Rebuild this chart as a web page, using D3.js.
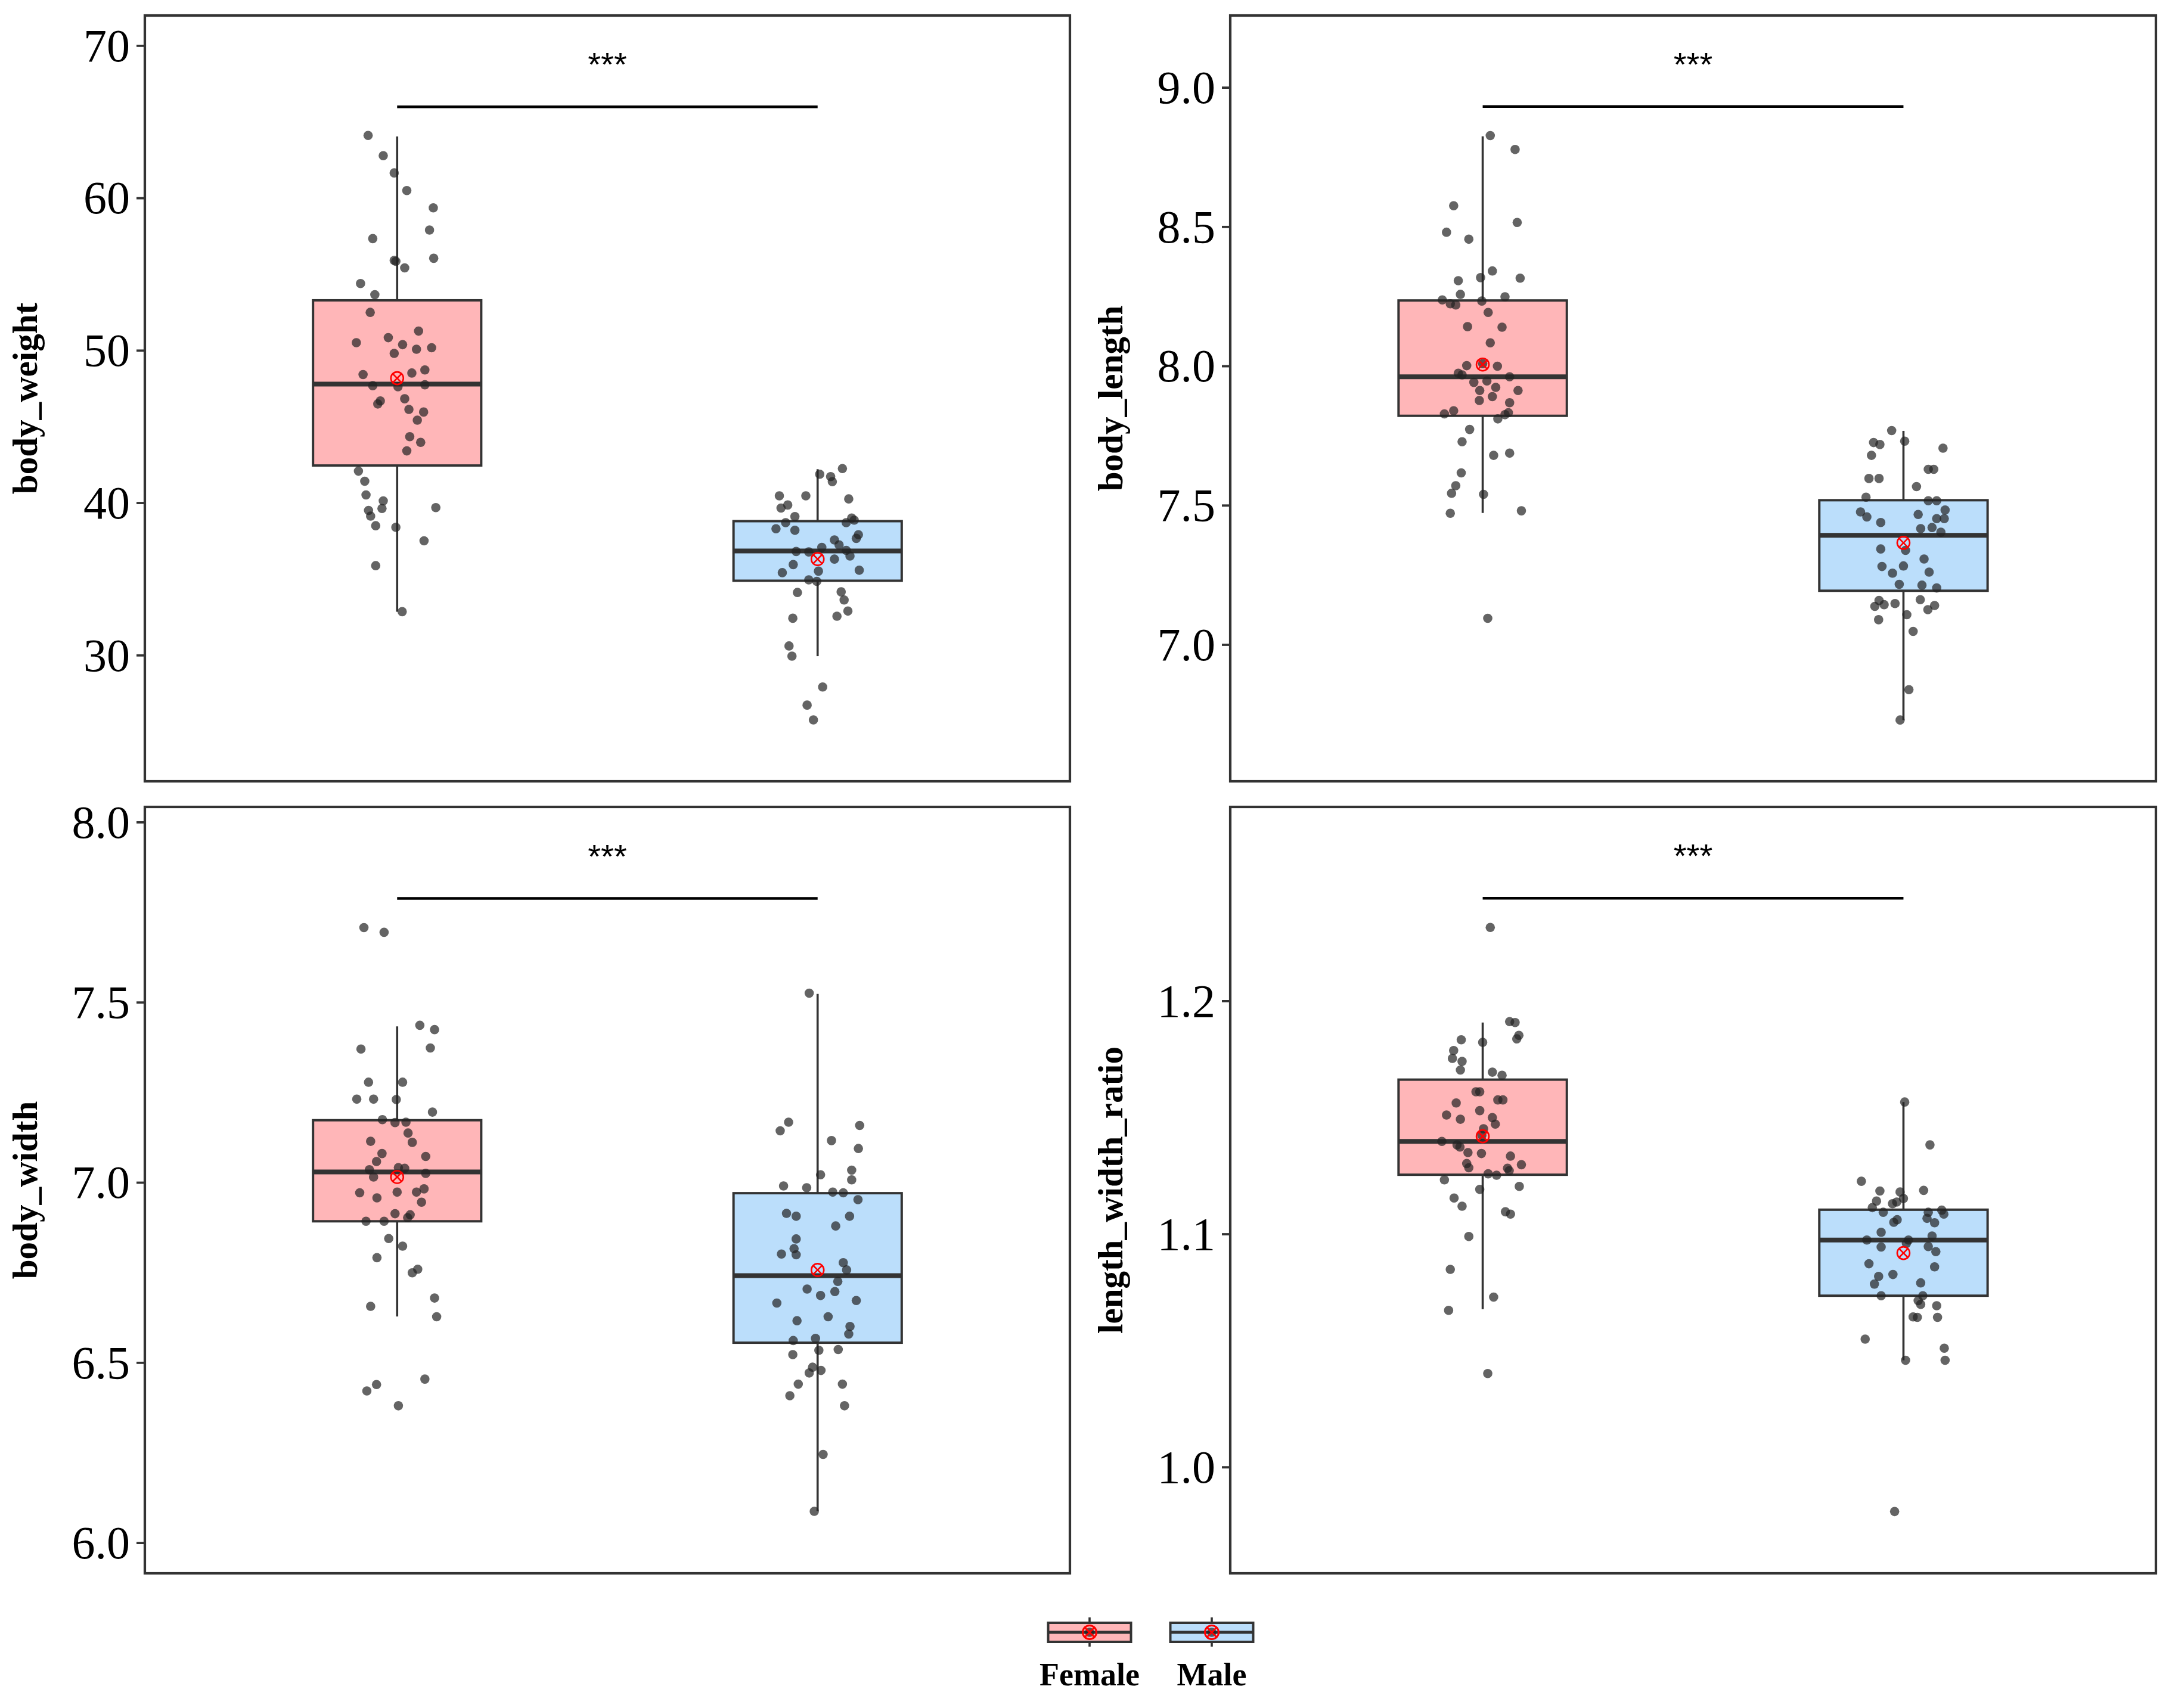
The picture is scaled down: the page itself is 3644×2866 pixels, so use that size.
<!DOCTYPE html>
<html>
<head>
<meta charset="utf-8">
<script src="https://cdn.jsdelivr.net/npm/d3@7/dist/d3.min.js"></script>
<style>
  html, body { margin: 0; padding: 0; background: #ffffff; }
  svg { display: block; }
</style>
</head>
<body>
<svg id="chart" width="3644" height="2866"></svg>
<script>
// ---------------- DATA ----------------
const categories = ["Female", "Male"];
const variables = ["body_weight", "body_length", "body_width", "length_width_ratio"];

const yTicks = [
  [30, 40, 50, 60, 70],
  [7.0, 7.5, 8.0, 8.5, 9.0],
  [6.0, 6.5, 7.0, 7.5, 8.0],
  [1.0, 1.1, 1.2]
];
const yTickLabels = [
  ["30", "40", "50", "60", "70"],
  ["7.0", "7.5", "8.0", "8.5", "9.0"],
  ["6.0", "6.5", "7.0", "7.5", "8.0"],
  ["1.0", "1.1", "1.2"]
];
const yDomains = [
  [21.72, 71.97],
  [6.509, 9.258],
  [5.915, 8.042],
  [0.9544, 1.2832]
];

// box stats: [lowerWhisker, q1, median, q3, upperWhisker, mean]
const boxFemale = [
  [32.85, 42.44, 47.78, 53.28, 64.03, 48.17],
  [7.472, 7.821, 7.961, 8.235, 8.824, 8.005],
  [6.628, 6.892, 7.029, 7.1725, 7.433, 7.015],
  [1.0677, 1.1254, 1.1397, 1.1662, 1.1907, 1.1419]
];
const boxMale = [
  [29.93, 34.88, 36.83, 38.79, 42.2, 36.30],
  [6.729, 7.193, 7.392, 7.518, 7.767, 7.365],
  [6.088, 6.555, 6.741, 6.970, 7.523, 6.757],
  [1.0458, 1.0735, 1.0974, 1.1104, 1.1566, 1.0918]
];

const sigLevels = [65.98, 8.931, 7.788, 1.244];
const sigLabels = ["***", "***", "***", "***"];

// observations: [value, jitter offset in category units]
const bodyWeightFemale = [
  [64.1,-0.069],[62.77,-0.033],[61.64,-0.007],[60.48,0.023],[59.35,0.086],[57.89,0.077],[57.33,-0.058],
  [55.9,-0.007],[55.84,-0.003],[55.41,0.018],[56.04,0.087],[54.38,-0.087],[53.65,-0.053],[52.49,-0.064],
  [51.26,0.051],[50.83,-0.021],[50.5,-0.097],[50.37,0.013],[49.8,-0.007],[50.07,0.046],[50.17,0.082],
  [48.71,0.066],[48.51,0.035],[48.41,-0.081],[47.68,-0.058],[47.61,0.002],[47.74,0.066],[46.48,-0.046],
  [46.68,-0.040],[46.82,0.018],[46.12,0.028],[45.95,0.063],[45.42,0.048],[44.33,0.030],[43.96,0.056],
  [43.4,0.023],[42.07,-0.092],[41.41,-0.077],[40.51,-0.074],[40.12,-0.033],[39.62,-0.036],[39.49,-0.068],
  [39.12,-0.063],[39.68,0.092],[38.49,-0.051],[38.39,-0.003],[37.5,0.064],[35.87,-0.051],[32.85,0.012]
];
const bodyWeightMale = [
  [42.24,0.059],[41.87,0.005],[41.71,0.031],[41.38,0.035],[40.45,-0.091],[40.45,-0.028],[39.85,-0.071],
  [39.65,-0.087],[40.25,0.074],[39.09,-0.054],[38.99,0.081],[38.69,0.068],[38.86,0.087],[38.69,-0.076],
  [38.29,-0.099],[38.19,-0.054],[37.9,0.097],[37.66,0.092],[37.56,0.040],[37.23,0.051],[37.07,0.010],
  [36.8,-0.051],[36.77,-0.021],[36.87,0.068],[36.5,0.077],[36.3,0.040],[35.94,-0.058],[35.51,0.002],
  [35.57,0.099],[35.41,-0.084],[34.94,-0.021],[34.84,-0.002],[34.11,-0.048],[34.15,0.056],[33.62,0.063],
  [32.89,0.072],[32.55,0.046],[32.42,-0.059],[30.6,-0.068],[29.93,-0.061],[27.91,0.012],[26.72,-0.025],
  [25.75,-0.010]
];
const bodyLengthFemale = [
  [8.827,0.018],[8.777,0.077],[8.575,-0.069],[8.515,0.082],[8.480,-0.086],[8.455,-0.033],[8.341,0.023],
  [8.317,-0.005],[8.306,-0.058],[8.315,0.089],[8.257,-0.053],[8.248,0.053],[8.233,-0.002],[8.237,-0.096],
  [8.223,-0.077],[8.219,-0.064],[8.192,0.013],[8.141,-0.036],[8.139,0.046],[8.083,0.018],[8.008,0.0],
  [8.001,-0.038],[7.999,0.035],[7.974,-0.058],[7.968,-0.049],[7.961,0.064],[7.941,-0.021],[7.946,0.010],
  [7.912,-0.007],[7.923,0.031],[7.912,0.084],[7.890,0.023],[7.876,-0.008],[7.868,0.064],[7.839,-0.069],
  [7.828,-0.091],[7.832,0.061],[7.825,0.053],[7.810,0.036],[7.772,-0.031],[7.728,-0.049],[7.679,0.026],
  [7.687,0.064],[7.616,-0.051],[7.570,-0.064],[7.543,-0.074],[7.539,0.002],[7.480,0.092],[7.471,-0.077],
  [7.094,0.012]
];
const bodyLengthMale = [
  [7.768,-0.028],[7.725,-0.071],[7.718,-0.056],[7.730,0.003],[7.705,0.094],[7.679,-0.076],[7.629,0.059],
  [7.629,0.072],[7.596,-0.082],[7.596,-0.058],[7.567,0.031],[7.529,-0.089],[7.516,0.059],[7.516,0.079],
  [7.476,-0.102],[7.483,0.099],[7.458,-0.087],[7.467,0.035],[7.452,0.079],[7.452,0.097],[7.438,-0.054],
  [7.420,0.068],[7.416,0.041],[7.403,0.089],[7.343,-0.054],[7.338,0.005],[7.307,0.049],[7.280,-0.051],
  [7.282,0.0],[7.256,-0.026],[7.260,0.061],[7.216,-0.010],[7.213,0.044],[7.203,0.079],[7.158,-0.058],
  [7.143,-0.046],[7.147,-0.020],[7.137,-0.068],[7.161,0.040],[7.140,0.074],[7.125,0.058],[7.107,0.008],
  [7.089,-0.059],[7.047,0.023],[6.838,0.013],[6.729,-0.008]
];
const bodyWidthFemale = [
  [7.707,-0.079],[7.694,-0.031],[7.436,0.054],[7.424,0.089],[7.370,-0.086],[7.373,0.079],[7.278,-0.068],
  [7.278,0.013],[7.231,-0.096],[7.231,-0.056],[7.230,-0.002],[7.195,0.084],[7.174,-0.035],[7.166,-0.005],
  [7.167,0.021],[7.137,0.026],[7.114,-0.063],[7.111,0.036],[7.080,-0.036],[7.072,0.068],[7.058,-0.049],
  [7.035,-0.066],[7.041,0.003],[7.039,0.018],[7.015,-0.056],[7.025,0.068],[6.982,0.064],[6.971,-0.089],
  [6.973,0.0],[6.973,0.046],[6.957,-0.048],[6.945,0.058],[6.913,-0.005],[6.910,0.031],[6.902,0.025],
  [6.892,-0.074],[6.892,-0.031],[6.844,-0.020],[6.823,0.013],[6.791,-0.048],[6.759,0.049],[6.749,0.036],
  [6.679,0.089],[6.656,-0.063],[6.627,0.094],[6.454,0.066],[6.439,-0.049],[6.421,-0.072],[6.380,0.003]
];
const bodyWidthMale = [
  [7.525,-0.020],[7.167,-0.069],[7.158,0.100],[7.143,-0.089],[7.116,0.033],[7.094,0.097],[7.034,0.081],
  [7.021,0.007],[7.007,0.081],[6.990,-0.081],[6.985,-0.026],[6.973,0.036],[6.971,0.061],[6.952,0.096],
  [6.914,-0.074],[6.906,-0.051],[6.906,0.076],[6.879,0.043],[6.843,-0.051],[6.816,-0.056],[6.801,-0.086],
  [6.799,-0.051],[6.777,0.061],[6.757,0.069],[6.725,0.048],[6.704,-0.025],[6.697,0.041],[6.686,0.007],
  [6.672,0.092],[6.665,-0.097],[6.627,0.025],[6.616,-0.049],[6.600,0.077],[6.579,0.074],[6.567,-0.005],
  [6.561,-0.058],[6.534,0.003],[6.536,0.049],[6.522,-0.059],[6.487,-0.012],[6.478,0.008],[6.471,-0.020],
  [6.440,-0.046],[6.440,0.059],[6.408,-0.066],[6.380,0.064],[6.245,0.013],[6.087,-0.008]
];
const ratioFemale = [
  [1.2315,0.018],[1.1911,0.064],[1.1907,0.077],[1.1852,0.086],[1.1837,0.081],[1.1833,-0.051],[1.1822,0.0],
  [1.1787,-0.069],[1.1753,-0.072],[1.1740,-0.049],[1.1703,-0.053],[1.1694,0.023],[1.1681,0.046],[1.1610,-0.016],
  [1.1610,-0.007],[1.1575,0.036],[1.1575,0.048],[1.1562,-0.063],[1.1529,-0.007],[1.1510,-0.086],[1.1499,0.023],
  [1.1471,0.030],[1.1492,-0.053],[1.1451,0.002],[1.1423,-0.002],[1.1397,-0.097],[1.1382,-0.061],[1.1373,-0.054],
  [1.1349,-0.035],[1.1345,-0.003],[1.1334,0.066],[1.1302,-0.038],[1.1284,-0.033],[1.1297,0.092],[1.1282,0.059],
  [1.1271,0.063],[1.1258,0.013],[1.1252,0.033],[1.1232,-0.091],[1.1204,0.087],[1.1191,-0.007],[1.1154,-0.068],
  [1.1119,-0.049],[1.1095,0.054],[1.1085,0.066],[1.0989,-0.033],[1.0848,-0.077],[1.0729,0.026],[1.0672,-0.081],
  [1.0401,0.012]
];
const ratioMale = [
  [1.1566,0.003],[1.1382,0.063],[1.1226,-0.100],[1.1187,0.048],[1.1184,-0.056],[1.1180,-0.008],[1.1141,-0.064],
  [1.1152,0.0],[1.1130,-0.026],[1.1137,-0.016],[1.1113,-0.074],[1.1102,0.091],[1.1093,0.059],[1.1093,-0.048],
  [1.1085,0.096],[1.1067,0.056],[1.1048,0.074],[1.1050,-0.023],[1.1061,-0.015],[1.1007,-0.053],[1.0991,0.068],
  [1.0974,-0.087],[1.0974,0.012],[1.0959,0.007],[1.0944,-0.053],[1.0946,0.059],[1.0924,0.077],[1.0872,-0.082],
  [1.0859,0.074],[1.0818,-0.059],[1.0826,-0.025],[1.0785,-0.069],[1.0790,0.041],[1.0735,-0.053],[1.0735,0.046],
  [1.0714,0.035],[1.0698,0.041],[1.0692,0.079],[1.0644,0.023],[1.0642,0.033],[1.0642,0.081],[1.0549,-0.091],
  [1.0510,0.097],[1.0458,0.005],[1.0458,0.099],[0.9809,-0.021]
];
const pointsFemale = [bodyWeightFemale, bodyLengthFemale, bodyWidthFemale, ratioFemale];
const pointsMale = [bodyWeightMale, bodyLengthMale, bodyWidthMale, ratioMale];

// ---------------- LAYOUT / STYLE ----------------
const fillColors = { Female: "#FFB6B8", Male: "#BBDEFB" };
const lineColor = "#333333";
const serif = "'Liberation Serif', 'Times New Roman', serif";
const sans = "'Liberation Sans', Arial, sans-serif";

const panels = [
  { x0: 243, x1: 1795, y0: 26, y1: 1311 },
  { x0: 2064, x1: 3617, y0: 26, y1: 1311 },
  { x0: 243, x1: 1795, y0: 1354, y1: 2640 },
  { x0: 2064, x1: 3617, y0: 1354, y1: 2640 }
];

const svg = d3.select("#chart");
svg.append("rect").attr("width", 3644).attr("height", 2866).attr("fill", "#ffffff");

function meanMarker(g, cx, cy, r, sw) {
  const m = g.append("g").attr("transform", `translate(${cx},${cy})`);
  m.append("circle").attr("r", r).attr("fill", "none").attr("stroke", "#FF0000").attr("stroke-width", sw);
  const d = r * 0.78;
  m.append("line").attr("x1", -d).attr("y1", -d).attr("x2", d).attr("y2", d)
    .attr("stroke", "#FF0000").attr("stroke-width", sw);
  m.append("line").attr("x1", -d).attr("y1", d).attr("x2", d).attr("y2", -d)
    .attr("stroke", "#FF0000").attr("stroke-width", sw);
}

variables.forEach((v, i) => {
  const p = panels[i];
  const g = svg.append("g");
  const x = d3.scaleLinear().domain([0.4, 2.6]).range([p.x0, p.x1]);
  const y = d3.scaleLinear().domain(yDomains[i]).range([p.y1, p.y0]);
  const unit = x(2) - x(1);
  const halfBox = 0.2 * unit;

  // boxes
  categories.forEach((c, ci) => {
    const s = (ci === 0 ? boxFemale : boxMale)[i];
    const cx = x(ci + 1);
    g.append("line").attr("x1", cx).attr("x2", cx).attr("y1", y(s[0])).attr("y2", y(s[1]))
      .attr("stroke", lineColor).attr("stroke-width", 3.6);
    g.append("line").attr("x1", cx).attr("x2", cx).attr("y1", y(s[3])).attr("y2", y(s[4]))
      .attr("stroke", lineColor).attr("stroke-width", 3.6);
    g.append("rect").attr("x", cx - halfBox).attr("width", 2 * halfBox)
      .attr("y", y(s[3])).attr("height", y(s[1]) - y(s[3]))
      .attr("fill", fillColors[c]).attr("stroke", lineColor).attr("stroke-width", 4);
    g.append("line").attr("x1", cx - halfBox).attr("x2", cx + halfBox).attr("y1", y(s[2])).attr("y2", y(s[2]))
      .attr("stroke", lineColor).attr("stroke-width", 8);
  });

  // points
  categories.forEach((c, ci) => {
    const pts = (ci === 0 ? pointsFemale : pointsMale)[i];
    g.append("g").selectAll("circle").data(pts).join("circle")
      .attr("cx", d => x(ci + 1 + d[1]))
      .attr("cy", d => y(d[0]))
      .attr("r", 7.8)
      .attr("fill", "#222222")
      .attr("fill-opacity", 0.7);
  });

  // means
  categories.forEach((c, ci) => {
    const s = (ci === 0 ? boxFemale : boxMale)[i];
    meanMarker(g, x(ci + 1), y(s[5]), 10.5, 2.6);
  });

  // significance
  g.append("line").attr("x1", x(1)).attr("x2", x(2)).attr("y1", y(sigLevels[i])).attr("y2", y(sigLevels[i]))
    .attr("stroke", "#000000").attr("stroke-width", 4.5);
  g.append("text").attr("x", (x(1) + x(2)) / 2).attr("y", y(sigLevels[i]) - 52)
    .attr("text-anchor", "middle").attr("font-family", sans).attr("font-size", 56)
    .attr("fill", "#000").text(sigLabels[i]);

  // panel border
  g.append("rect").attr("x", p.x0).attr("y", p.y0).attr("width", p.x1 - p.x0).attr("height", p.y1 - p.y0)
    .attr("fill", "none").attr("stroke", lineColor).attr("stroke-width", 4.2);

  // y axis
  const axis = d3.axisLeft(y).tickValues(yTicks[i])
    .tickFormat((d, k) => yTickLabels[i][k]).tickSize(12).tickPadding(11);
  const ag = g.append("g").attr("transform", `translate(${p.x0 - 2},0)`).call(axis);
  ag.select(".domain").remove();
  ag.selectAll(".tick line").attr("stroke", lineColor).attr("stroke-width", 3.8);
  ag.selectAll(".tick text").attr("font-family", serif).attr("font-size", 78).attr("fill", "#000")
    .attr("dy", "0.33em");

  // y title
  const tx = p.x0 - 181, ty = (p.y0 + p.y1) / 2;
  g.append("text").attr("transform", `translate(${tx},${ty}) rotate(-90)`)
    .attr("text-anchor", "middle").attr("font-family", serif).attr("font-weight", "bold")
    .attr("font-size", 59).attr("fill", "#000").text(v);
});

// ---------------- LEGEND ----------------
const legendX = d3.scalePoint().domain(categories).range([1828, 2033]);
const lg = svg.append("g");
categories.forEach(c => {
  const cx = legendX(c);
  const w = 139, top = 2723, bot = 2755, mid = 2739;
  lg.append("line").attr("x1", cx).attr("x2", cx).attr("y1", 2714).attr("y2", 2763)
    .attr("stroke", lineColor).attr("stroke-width", 3.6);
  lg.append("rect").attr("x", cx - w / 2).attr("y", top).attr("width", w).attr("height", bot - top)
    .attr("fill", fillColors[c]).attr("stroke", lineColor).attr("stroke-width", 4);
  lg.append("line").attr("x1", cx - w / 2).attr("x2", cx + w / 2).attr("y1", mid).attr("y2", mid)
    .attr("stroke", lineColor).attr("stroke-width", 4.8);
  lg.append("circle").attr("cx", cx).attr("cy", mid).attr("r", 7.8).attr("fill", "#222").attr("fill-opacity", 0.7);
  meanMarker(lg, cx, mid, 11.5, 3);
  lg.append("text").attr("x", cx).attr("y", 2828).attr("text-anchor", "middle")
    .attr("font-family", serif).attr("font-weight", "bold").attr("font-size", 54)
    .attr("fill", "#000").text(c);
});
</script>
</body>
</html>
